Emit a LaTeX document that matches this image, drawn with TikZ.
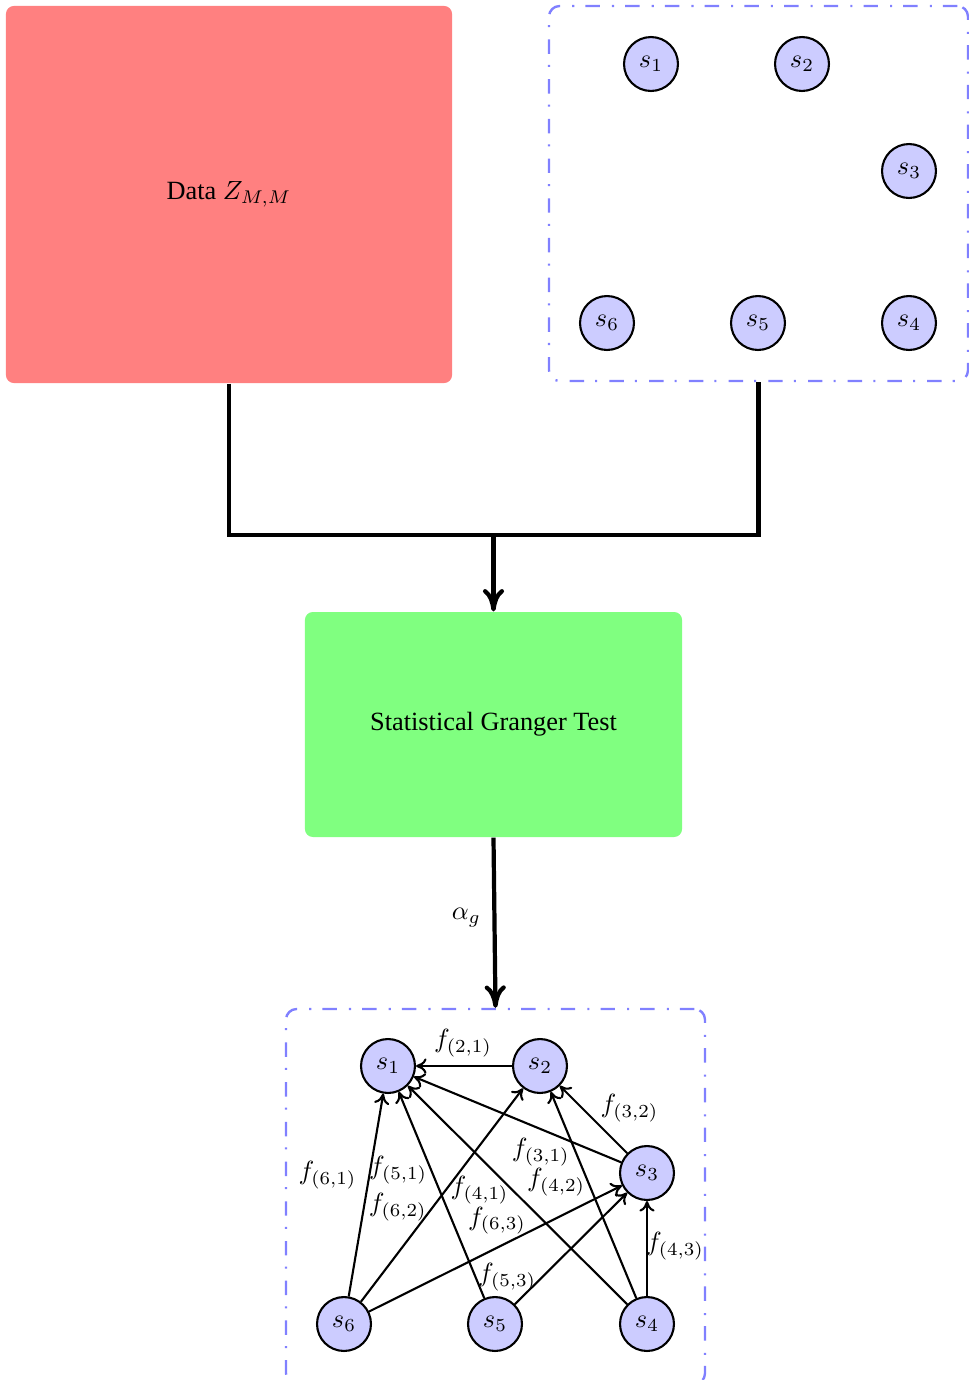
\documentclass[tikz,border=0pt]{standalone}
\usepackage{fontspec}
\setmainfont{Liberation Serif}
\usetikzlibrary{calc,arrows.meta}
\begin{document}
\begin{tikzpicture}[x=0.38pt,y=-0.38pt,
  databox/.style={fill=red!50, rounded corners=3pt, minimum width=169.5pt, minimum height=143.3pt},
  testbox/.style={fill=green!50, rounded corners=3pt, minimum width=143.3pt, minimum height=85.5pt},
  group/.style={draw=blue!50, line width=0.9pt, dash pattern=on 5.5pt off 4.2pt on 0.8pt off 4.6pt,
                rounded corners=4pt, minimum width=159.2pt, minimum height=142.5pt},
  sensor/.style={circle, draw, thick, fill=blue!20, minimum size=20.5pt, inner sep=0pt},
  flow/.style={ultra thick},
  bigtip/.style={-{To[length=8.5pt,width=8pt]}},
  link/.style={thick, -{To[length=4pt,width=5.8pt]}},
  lab/.style={inner sep=1pt}]
\useasboundingbox (0,0) rectangle (969,1380);

% input data and the sensor layout
\node[databox] (data) at (229,194.5) {Data $Z_{M,M}$};
\node[group] (top) at (758.5,193.5) {};
\node[sensor] (t1) at (651,64)  {$s_1$};
\node[sensor] (t2) at (802,64)  {$s_2$};
\node[sensor] (t3) at (909,171) {$s_3$};
\node[sensor] (t4) at (909,323) {$s_4$};
\node[sensor] (t5) at (758,323) {$s_5$};
\node[sensor] (t6) at (607,323) {$s_6$};

% the test
\node[testbox] (test) at (493.5,724.5) {Statistical Granger Test};

% resulting causality graph
\node[group] (bot) at (495.5,1196.5) {};
\node[sensor] (b1) at (388,1066) {$s_1$};
\node[sensor] (b2) at (540,1066) {$s_2$};
\node[sensor] (b3) at (647,1173) {$s_3$};
\node[sensor] (b4) at (647,1324) {$s_4$};
\node[sensor] (b5) at (495,1324) {$s_5$};
\node[sensor] (b6) at (344,1324) {$s_6$};

% merging the two inputs
\coordinate (lvl) at (0,535);
\coordinate (join) at (test.north |- lvl);
\draw[flow] (data.south) |- (join);
\draw[flow] (top.south) |- (join);
\draw[flow,bigtip] (join) -- (test.north);
\draw[flow,bigtip] (test.south) -- node[pos=0.47,left=1pt] {$\alpha_g$} (bot.north);

% directed Granger links
\draw[link] (b2) -- (b1);
\draw[link] (b3) -- (b1);
\draw[link] (b4) -- (b1);
\draw[link] (b5) -- (b1);
\draw[link] (b6) -- (b1);
\draw[link] (b3) -- (b2);
\draw[link] (b4) -- (b2);
\draw[link] (b6) -- (b2);
\draw[link] (b4) -- (b3);
\draw[link] (b5) -- (b3);
\draw[link] (b6) -- (b3);

% link labels
\node[lab] at ($(b2)!0.5!(b1)+(-1,-23)$)   {$f_{(2,1)}$};
\node[lab] at ($(b3)!0.41!(b1)+(0,23)$)    {$f_{(3,1)}$};
\node[lab] at ($(b4)!0.6!(b1)+(-12,21)$)   {$f_{(4,1)}$};
\node[lab] at ($(b5)!0.597!(b1)+(-33,0)$)  {$f_{(5,1)}$};
\node[lab] at ($(b6)!0.58!(b1)+(-42,1)$)   {$f_{(6,1)}$};
\node[lab] at ($(b3)!0.5!(b2)+(36,-11)$)   {$f_{(3,2)}$};
\node[lab] at ($(b4)!0.55!(b2)+(-32,0)$)   {$f_{(4,2)}$};
\node[lab] at ($(b6)!0.453!(b2)+(-35,0)$)  {$f_{(6,2)}$};
\node[lab] at ($(b4)!0.5!(b3)+(28,-2)$)    {$f_{(4,3)}$};
\node[lab] at ($(b5)!0.31!(b3)+(-35,0)$)   {$f_{(5,3)}$};
\node[lab] at ($(b6)!0.505!(b3)+(0,-27)$)  {$f_{(6,3)}$};
\end{tikzpicture}
\end{document}
